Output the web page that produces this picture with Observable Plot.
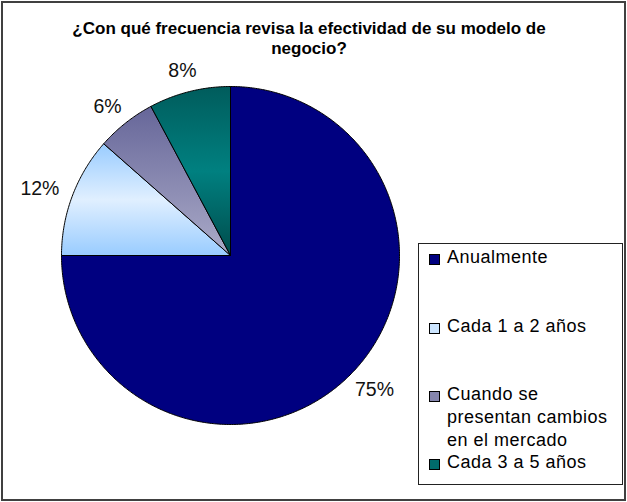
<!DOCTYPE html>
<html>
<head>
<meta charset="utf-8">
<script src="https://cdn.jsdelivr.net/npm/d3@7"></script>
<script src="https://cdn.jsdelivr.net/npm/@observablehq/plot@0.6"></script>
<style>
  html, body { margin: 0; padding: 0; background: #fff; }
  #frame { position: relative; width: 627px; height: 502px; font-family: "Liberation Sans", Arial, sans-serif; }
  #border { position: absolute; left: 1px; top: 1px; width: 625px; height: 500px; box-sizing: border-box; border: 2px solid #404040; }
  #title { position: absolute; left: 64px; top: 19px; width: 490px; text-align: center; font-weight: bold; font-size: 17px; line-height: 20px; color: #000; }
  #chart { position: absolute; left: 0; top: 0; }
  #legend { position: absolute; left: 418px; top: 243px; width: 205px; height: 242px; box-sizing: border-box; border: 1px solid #222; background: #fff; }
  .item { position: absolute; left: 28px; width: 174px; font-size: 18px; line-height: 23px; letter-spacing: 0.5px; color: #000; }
  .sw { position: absolute; left: -18px; top: 8px; width: 11px; height: 11px; box-sizing: border-box; border: 1px solid #000; }
</style>
</head>
<body>
<svg width="0" height="0" style="position:absolute">
  <defs>
    <linearGradient id="gLight" x1="0" y1="0" x2="0" y2="1">
      <stop offset="0" stop-color="#99CCFF"/>
      <stop offset="0.5" stop-color="#E0EFFF"/>
      <stop offset="1" stop-color="#99CCFF"/>
    </linearGradient>
    <linearGradient id="gPurple" x1="0" y1="0" x2="0" y2="1">
      <stop offset="0" stop-color="#666699"/>
      <stop offset="1" stop-color="#ABABC8"/>
    </linearGradient>
    <linearGradient id="gTeal" x1="0" y1="0" x2="0" y2="1">
      <stop offset="0" stop-color="#005C5C"/>
      <stop offset="0.5" stop-color="#008080"/>
      <stop offset="1" stop-color="#004C4C"/>
    </linearGradient>
  </defs>
</svg>
<div id="frame">
  <div id="border"></div>
  <div id="chart"></div>
  <div id="title">¿Con qué frecuencia revisa la efectividad de su modelo de negocio?</div>
  <div id="legend"></div>
</div>
<script>
const categories = ["Anualmente", "Cada 1 a 2 años", "Cuando se presentan cambios en el mercado", "Cada 3 a 5 años"];
const values = [75, 11.5, 5.7, 7.8];
const sliceFills = ["#000080", "url(#gLight)", "url(#gPurple)", "url(#gTeal)"];
const swatchColors = ["#000080", "#CCE5FF", "#8585AD", "#006B6B"];

const W = 627, H = 502;
const R = 169, CX = 230, CY = 255;

const arcs = d3.pie().sort(null).value(d => d)(values);

// slice polygons in unit-circle coordinates (y up)
const points = [];
arcs.forEach((a, i) => {
  const cat = categories[i];
  points.push({cat, x: 0, y: 0});
  const n = Math.max(2, Math.ceil((a.endAngle - a.startAngle) / 0.01));
  for (let k = 0; k <= n; k++) {
    const t = a.startAngle + (a.endAngle - a.startAngle) * k / n;
    points.push({cat, x: Math.sin(t), y: Math.cos(t)});
  }
  points.push({cat, x: 0, y: 0});
});

// percentage labels outside the pie
const fs = 19.5;
const labels = arcs.map((a, i) => {
  const m = (a.startAngle + a.endAngle) / 2;
  const s = Math.sin(m), c = Math.cos(m);
  const text = Math.round(values[i]) + "%";
  const halfW = (text.length === 3 ? 2.0 : 1.445) * fs / 2;
  const halfH = 6;
  return {
    text,
    x: s * 1.09 + s * halfW / R,
    y: c * 1.09 + c * halfH / R
  };
});

const chart = Plot.plot({
  width: W,
  height: H,
  marginLeft: CX - R,
  marginRight: W - (CX + R),
  marginTop: CY - R,
  marginBottom: H - (CY + R),
  x: {domain: [-1, 1], axis: null},
  y: {domain: [-1, 1], axis: null},
  color: {domain: categories, range: sliceFills},
  style: {background: "transparent", fontFamily: "'Liberation Sans', Arial, sans-serif"},
  marks: [
    Plot.line(points, {x: "x", y: "y", z: "cat", fill: "cat", stroke: "#000", strokeWidth: 1, strokeLinejoin: "round"}),
    Plot.text(labels, {x: "x", y: "y", text: "text", fontSize: fs, fill: "#111", textAnchor: "middle", lineAnchor: "middle"})
  ]
});
document.getElementById("chart").appendChild(chart);

// legend
const tops = [2, 71, 139, 207];
const legend = d3.select("#legend");
categories.forEach((cat, i) => {
  const item = legend.append("div").attr("class", "item").style("top", tops[i] + "px");
  item.append("div").attr("class", "sw").style("background", swatchColors[i]);
  item.append("span").text(cat);
});
</script>
</body>
</html>
